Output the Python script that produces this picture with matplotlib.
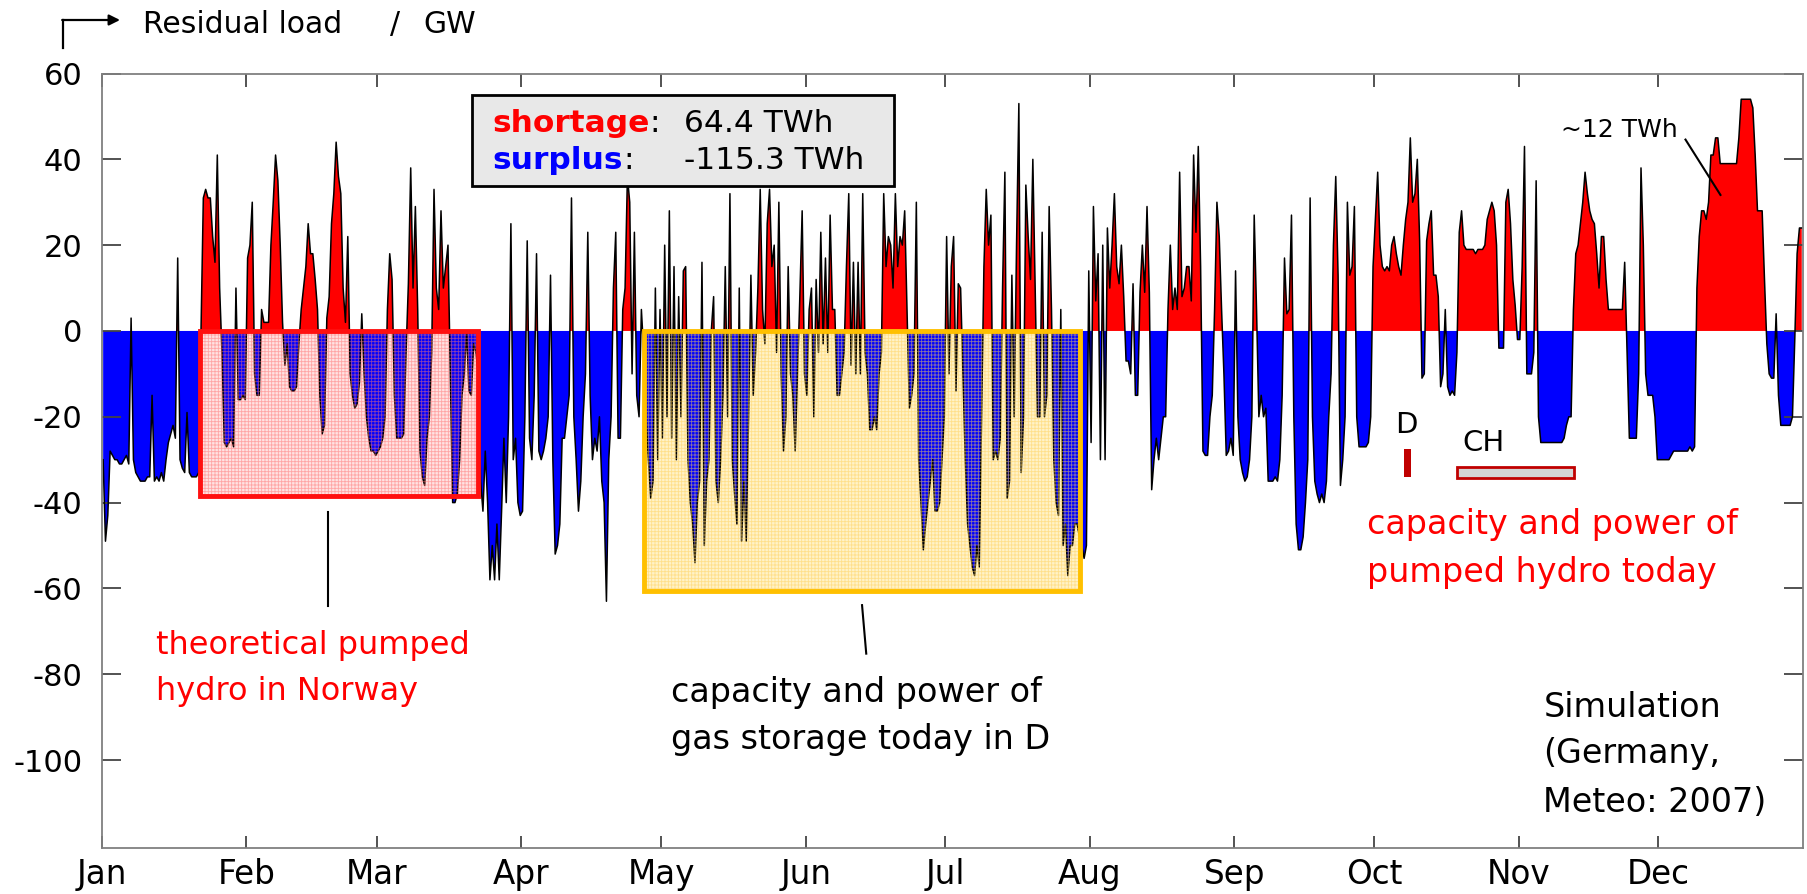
import numpy as np
import matplotlib
matplotlib.use("Agg")
import matplotlib.pyplot as plt
from matplotlib.patches import Rectangle
from matplotlib.lines import Line2D

plt.rcParams['font.family'] = ['DejaVu Sans']
plt.rcParams['hatch.linewidth'] = 0.6

# ---------------- data (GW), two samples per day ----------------
month_labels = ['Jan', 'Feb', 'Mar', 'Apr', 'May', 'Jun', 'Jul', 'Aug', 'Sep', 'Oct', 'Nov', 'Dec']
month_starts = [0, 31, 59, 90, 120, 151, 181, 212, 243, 273, 304, 334]
y_ticks = [60, 40, 20, 0, -20, -40, -60, -80, -100]

jan = [(-30,-49),(-43,-28),(-29,-30),(-30,-31),(-31,-30),(-29,-31),(3,-30),(-33,-34),(-35,-35),(-35,-34),
       (-34,-15),(-35,-34),(-35,-33),(-35,-30),(-26,-24),(-22,-25),(17,-30),(-32,-33),(-19,-33),(-34,-34),
       (-34,-33),(0,31),(33,31),(31,22),(16,41),(10,-5),(-26,-27),(-26,-25),(-27,10),(-16,-16),
       (-15,-16)]
feb = [(17,20),(30,-10),(-15,-15),(5,2),(2,2),(20,30),(41,35),(20,2),(-8,-3),(-13,-14),
       (-14,-13),(-3,5),(10,15),(25,18),(18,12),(5,-15),(-24,-22),(3,8),(25,32),(44,36),
       (32,10),(2,22),(-10,-15),(-18,-17),(-12,4),(-10,-20),(-25,-28),(-28,-29)]
mar = [(-28,-27),(-25,-20),(5,18),(12,-15),(-25,-25),(-25,-24),(-5,11),(38,10),(29,5),(-28,-34),
       (-36,-25),(-20,-5),(33,10),(5,28),(10,15),(20,-10),(-40,-40),(-38,-30),(-15,-10),(0,-14),
       (-15,-3),(-5,-10),(-35,-42),(-28,-40),(-58,-50),(-58,-45),(-58,-42),(-25,-40),(-20,25),(-30,-25),
       (-40,-43)]
apr = [(-42,-20),(21,-25),(-30,-15),(18,-28),(-30,-28),(-25,-20),(13,-30),(-52,-50),(-45,-25),(-25,-20),
       (-15,31),(-20,-30),(-42,-35),(-20,-10),(23,-15),(-30,-25),(-28,-20),(-35,-40),(-63,-30),(-20,10),
       (23,-25),(-25,5),(10,36),(30,-10),(23,-15),(-20,5),(-5,-20),(-30,-39),(-35,10),(-30,5)]
may = [(-25,20),(-20,28),(-25,15),(-30,8),(-20,14),(15,-30),(-40,-45),(-54,-40),(-35,16),(-50,-35),
       (-30,0),(8,-35),(-40,-30),(-15,15),(-20,32),(-30,-38),(-45,10),(-49,-35),(-49,-20),(13,-15),
       (-5,10),(33,5),(-3,25),(33,15),(20,-5),(30,-10),(-28,-20),(15,-10),(-15,-28),(-10,8),
       (28,-10)]
jun = [(-15,5),(10,-20),(12,-5),(23,-3),(17,-5),(27,5),(5,-15),(-15,-10),(-5,15),(32,-8),
       (16,-10),(16,-10),(32,-5),(-10,-23),(-23,-20),(-23,-10),(-5,32),(15,22),(20,10),(32,15),
       (22,20),(28,5),(-18,-15),(-10,30),(-30,-40),(-51,-45),(-40,-35),(-30,-42),(-42,-40),(-30,-20)]
jul = [(22,-10),(15,22),(-14,11),(10,-10),(-30,-45),(-50,-55),(-57,-50),(-55,-20),(15,33),(20,27),
       (-30,-28),(-30,-25),(10,37),(-39,-35),(13,-20),(20,53),(-33,-20),(34,22),(12,40),(10,-20),
       (-20,23),(-20,-15),(29,5),(-30,-40),(-43,5),(-50,-45),(-57,-50),(-50,-45),(-45,-48),(-50,-53),
       (-50,14)]
aug = [(-26,29),(7,18),(-30,20),(-30,24),(10,20),(32,15),(11,20),(8,-7),(-7,-10),(11,-15),
       (-15,9),(20,9),(29,9),(-37,-30),(-25,-30),(-25,-20),(-20,5),(20,5),(10,5),(37,8),
       (10,15),(15,7),(41,23),(43,15),(-28,-29),(-29,-20),(-15,5),(30,22),(5,-10),(-29,-28),
       (-25,-29)]
sep = [(14,-20),(-30,-33),(-35,-34),(-30,-20),(27,5),(-20,-15),(-20,-18),(-35,-35),(-35,-34),(-35,-30),
       (-15,17),(4,5),(27,-20),(-45,-51),(-51,-48),(-40,-30),(31,-20),(-35,-38),(-40,-38),(-40,-35),
       (-20,-10),(20,36),(13,-36),(-30,-20),(30,13),(15,29),(-20,-27),(-27,-27),(-27,-26),(-20,15)]
oct_ = [(26,37),(20,15),(14,15),(14,20),(22,18),(15,13),(20,26),(30,45),(30,32),(40,21),
        (-11,-10),(21,25),(28,13),(13,8),(-13,-10),(5,-13),(-15,-14),(-15,-5),(23,28),(20,19),
        (19,19),(19,18),(19,19),(19,20),(26,28),(30,28),(20,-4),(-4,-4),(30,33),(25,12),
        (6,-2)]
nov = [(-2,15),(43,-10),(-10,-10),(-5,35),(-20,-26),(-26,-26),(-26,-26),(-26,-26),(-26,-26),(-26,-25),
       (-22,-20),(-20,5),(18,20),(25,30),(37,32),(28,26),(25,18),(10,22),(22,12),(5,5),
       (5,5),(5,5),(5,16),(-5,-25),(-25,-25),(-25,-10),(38,20),(-10,-15),(-15,-15),(-20,-30)]
dec = [(-30,-30),(-30,-30),(-30,-29),(-28,-28),(-28,-28),(-28,-28),(-28,-27),(-28,-27),(10,22),(28,28),
       (26,30),(41,41),(45,45),(39,39),(39,39),(39,39),(39,39),(45,54),(54,54),(54,54),
       (52,41),(28,28),(28,12),(-3,-10),(-11,-11),(4,-15),(-22,-22),(-22,-22),(-22,-20),(-2,18),
       (24,24)]

shortage_twh = 64.4
surplus_twh = -115.3

months = [jan, feb, mar, apr, may, jun, jul, aug, sep, oct_, nov, dec]
y = np.concatenate([np.asarray(m, float).ravel() for m in months])
x = np.arange(len(y)) / 2.0 + 0.25

# ---------------- figure ----------------
fig = plt.figure(figsize=(18.08, 8.94), dpi=100)
ax = fig.add_axes([0.0564, 0.05145, 0.9408, 0.86633])
ax.set_xlim(0, 365)
ax.set_ylim(-120.5, 60)

# storage boxes: backgrounds
ax.add_patch(Rectangle((21.0, -38.4), 59.6, 38.4, facecolor='#ffe2e2', edgecolor='none', zorder=0.5))
ax.add_patch(Rectangle((116.4, -60.6), 93.5, 60.6, facecolor='#fff2c8', edgecolor='none', zorder=0.5))

# residual load
ax.fill_between(x, y, 0, where=y >= 0, interpolate=True, color='#ff0000', lw=0, zorder=1)
ax.fill_between(x, y, 0, where=y <= 0, interpolate=True, color='#0000ff', lw=0, zorder=1)
ax.plot(x, y, color='black', lw=1.1, zorder=2)

# storage boxes: grid hatch and borders
ax.add_patch(Rectangle((21.0, -38.4), 59.6, 38.4, fill=False, hatch='+++++',
                       edgecolor=(1, 0.45, 0.45, 0.55), lw=0, zorder=3))
ax.add_patch(Rectangle((21.0, -38.4), 59.6, 38.4, fill=False, edgecolor='#ff1010', lw=3.5, zorder=4))
ax.add_patch(Rectangle((116.4, -60.6), 93.5, 60.6, fill=False, hatch='+++++',
                       edgecolor=(1, 0.82, 0.35, 0.55), lw=0, zorder=3))
ax.add_patch(Rectangle((116.4, -60.6), 93.5, 60.6, fill=False, edgecolor='#ffc000', lw=3.5, zorder=4))

# pumped hydro today markers
ax.add_patch(Rectangle((279.4, -34.0), 1.4, 6.5, facecolor='#c00000', edgecolor='none', zorder=4))
ax.add_patch(Rectangle((290.8, -34.2), 25.0, 2.5, facecolor='#d4d4d4', edgecolor='#c00000', lw=2, zorder=4))
ax.text(279.9, -23.8, 'D', fontsize=21, ha='center', va='baseline', zorder=5)
ax.text(296.5, -28.0, 'CH', fontsize=21, ha='center', va='baseline', zorder=5)

# summary box
ax.add_patch(Rectangle((79.5, 33.7), 90.5, 21.4, facecolor='#e8e8e8', edgecolor='black', lw=2, zorder=10))
t1 = ax.text(83.8, 46.3, 'shortage', color='#ff0000', fontweight='bold', fontsize=22.5, va='baseline', zorder=11)
ax.annotate(':', xy=(1, 0), xycoords=t1, va='bottom', fontsize=22.5, zorder=11)
t2 = ax.text(83.8, 37.7, 'surplus', color='#0000ff', fontweight='bold', fontsize=22.5, va='baseline', zorder=11)
ax.annotate(':', xy=(1, 0), xycoords=t2, va='bottom', fontsize=22.5, zorder=11)
ax.text(125.0, 46.3, f'{shortage_twh:.1f} TWh', fontsize=22.5, va='baseline', zorder=11)
ax.text(125.0, 37.7, f'{surplus_twh:.1f} TWh', fontsize=22.5, va='baseline', zorder=11)

# annotations
ax.text(11.6, -75.2, 'theoretical pumped', color='#ff0000', fontsize=23, va='baseline')
ax.text(11.6, -86.0, 'hydro in Norway', color='#ff0000', fontsize=23, va='baseline')
ax.plot([48.4, 48.4], [-42.3, -64.0], color='black', lw=1.5)

ax.text(122.2, -86.4, 'capacity and power of', fontsize=24, va='baseline')
ax.text(122.2, -97.5, 'gas storage today in D', fontsize=24, va='baseline')
ax.plot([163.1, 164.0], [-63.9, -75.2], color='black', lw=1.5)

ax.text(271.4, -47.4, 'capacity and power of', color='#ff0000', fontsize=24, va='baseline')
ax.text(271.4, -58.6, 'pumped hydro today', color='#ff0000', fontsize=24, va='baseline')

ax.text(309.3, -89.9, 'Simulation', fontsize=24, va='baseline')
ax.text(309.3, -100.8, '(Germany,', fontsize=24, va='baseline')
ax.text(309.3, -112.1, 'Meteo: 2007)', fontsize=24, va='baseline')

ax.text(313.0, 45.3, '~12 TWh', fontsize=18, va='baseline', zorder=5)
ax.plot([339.8, 347.3], [44.6, 31.7], color='black', lw=1.5, zorder=5)

# axes styling
ax.set_xticks(month_starts)
ax.set_xticklabels(month_labels, fontsize=23.5)
ax.set_yticks(y_ticks)
ax.set_yticklabels([str(v) for v in y_ticks], fontsize=22)
ax.tick_params(axis='x', direction='in', length=9, width=1.3, top=True, bottom=True, pad=7, colors='#444444',
               labelcolor='black')
ax.tick_params(axis='y', direction='in', length=14, width=1.3, left=True, right=True, pad=14, colors='#444444',
               labelcolor='black')
for s in ax.spines.values():
    s.set_color('#808080')
    s.set_linewidth(1.3)

# y-axis title with arrow
fig.text(143 / 1808, 1 - 33 / 894, 'Residual load', fontsize=21.5, va='baseline')
fig.text(390 / 1808, 1 - 33 / 894, '/', fontsize=21.5, va='baseline')
fig.text(423 / 1808, 1 - 33 / 894, 'GW', fontsize=21.5, va='baseline')
fig.add_artist(Line2D([63 / 1808, 63 / 1808], [1 - 48 / 894, 1 - 20 / 894], transform=fig.transFigure,
                      color='black', lw=1.6))
ax.annotate('', xy=(120 / 1808, 1 - 20 / 894), xytext=(62.2 / 1808, 1 - 20 / 894),
            xycoords='figure fraction', textcoords='figure fraction',
            arrowprops=dict(arrowstyle='-|>', lw=1.6, color='black', mutation_scale=16, shrinkA=0, shrinkB=0))

fig.savefig('out.png', dpi=100)
